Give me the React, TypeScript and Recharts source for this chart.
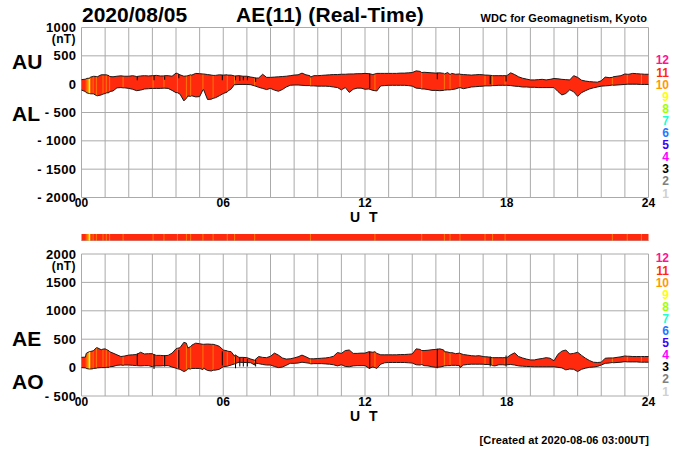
import React from 'react'
import { Area, Bar, CartesianGrid, ComposedChart, Line, ReferenceArea, ReferenceLine, Rectangle, XAxis, YAxis } from 'recharts'

// 10 minute readings, 145 values from 00:00 to 24:00 UT
const auValues = [
  80, 88, 100, 140, 130, 165, 165, 150, 130, 140, 147, 140, 140, 150, 135, 145, 150, 145,
  150, 155, 145, 150, 150, 140, 195, 165, 140, 150, 160, 190, 185, 180, 170, 160, 155, 165,
  160, 165, 160, 145, 150, 140, 140, 125, 105, 110, 175, 120, 120, 125, 130, 135, 140, 150,
  160, 165, 195, 165, 150, 150, 150, 155, 160, 165, 170, 170, 175, 175, 180, 180, 185, 185,
  190, 185, 170, 190, 190, 190, 190, 190, 190, 195, 195, 200, 205, 235, 225, 210, 205, 200,
  195, 200, 190, 205, 190, 175, 180, 170, 165, 160, 165, 170, 165, 160, 155, 150, 150, 150,
  150, 200, 170, 130, 105, 90, 75, 75, 80, 85, 75, 85, 100, 95, 85, 80, 75, 150,
  120, 70, 55, 45, 40, 35, 60, 125, 115, 130, 140, 150, 180, 175, 190, 185, 180, 175, 175,
]
const alValues = [
  -105, -130, -165, -170, -205, -190, -165, -150, -120, -65, -60, -65, -75, -90, -115, -105, -85, -80,
  -75, -75, -75, -70, -75, -110, -150, -175, -295, -210, -205, -225, -220, -95, -270, -265, -240, -205,
  -165, -140, -85, -10, -5, -5, -5, -10, -30, -55, -75, -95, -75, -105, -125, -95, -50, -20,
  -15, -15, -20, -25, -25, -30, -35, -35, -35, -40, -50, -60, -100, -60, -145, -90, -70, -70,
  -90, -85, -110, -120, -30, -25, -20, -20, -20, -20, -20, -25, -35, -70, -75, -85, -95, -110,
  -110, -115, -110, -100, -95, -85, -60, -80, -65, -50, -45, -40, -35, -30, -30, -25, -20, -20,
  -20, -25, -35, -40, -50, -50, -55, -55, -60, -60, -60, -60, -60, -130, -190, -165, -100, -135,
  -215, -150, -115, -85, -65, -50, -35, -30, -25, -20, -15, -10, -5, 0, 0, 0, -5, -5, -5,
]
const aeValues = [
  180, 185, 280, 295, 350, 315, 330, 295, 255, 225, 195, 205, 220, 225, 230, 270, 240, 245,
  245, 215, 215, 210, 215, 255, 330, 350, 445, 345, 395, 430, 420, 410, 415, 410, 400, 375,
  310, 295, 280, 225, 180, 180, 175, 150, 135, 195, 180, 175, 200, 255, 220, 170, 150, 155,
  170, 190, 220, 190, 155, 155, 160, 165, 170, 180, 200, 265, 250, 300, 310, 250, 250, 255,
  255, 280, 270, 250, 225, 225, 225, 225, 225, 230, 230, 235, 240, 330, 320, 300, 305, 315,
  320, 330, 310, 275, 265, 245, 255, 230, 220, 210, 205, 210, 195, 190, 180, 175, 175, 175,
  175, 225, 260, 195, 170, 150, 135, 135, 150, 160, 175, 165, 120, 235, 290, 310, 240, 250,
  270, 215, 165, 125, 95, 90, 95, 165, 170, 170, 180, 190, 205, 200, 195, 195, 195, 195, 195,
]
const aoValues = [
  0, -5, -25, -15, -5, 0, 0, 5, 20, 40, 45, 45, 45, 40, 35, 30, 35, 35,
  15, 30, 30, 35, 35, 10, -10, -30, -70, -20, -15, -15, -15, -10, -50, -60, -45, -30,
  15, 25, 45, 70, 95, 90, 90, 85, 80, 70, 55, 45, 45, 20, 0, 10, 40, 75,
  75, 80, 95, 85, 75, 70, 70, 70, 65, 60, 50, 30, 50, 20, 15, 30, 35, 35,
  35, -10, 10, -15, 60, 85, 90, 90, 90, 90, 90, 85, 80, 50, 45, 35, 30, 15,
  5, 10, 25, 35, 40, 40, 35, 45, 55, 60, 60, 60, 60, 55, 50, 30, 50, 50,
  50, 55, 45, 30, 25, 20, 18, 15, 15, 15, 15, 15, 15, 5, -5, -40, -25, -30,
  -70, -30, -10, 5, 10, 20, 45, 75, 80, 85, 90, 95, 105, 100, 100, 100, 95, 95, 95,
]

// narrow orange / yellow stripes where the number of stations drops
const stripeHours = [0.2, 0.28, 0.34, 0.39, 0.49, 0.63, 0.91, 1.05, 1.19, 1.76, 3.03, 3.49, 4.06, 4.44, 4.62, 5.14, 5.57, 6.17, 6.48, 7.33, 9.69, 12.42, 14.4, 15.36, 15.6, 16.02, 17.08, 17.4, 17.93, 22.47, 23.1, 23.7]
const stripeCounts = [10, 9, 9, 10, 10, 10, 10, 10, 10, 10, 10, 10, 10, 10, 10, 10, 10, 10, 10, 10, 10, 10, 10, 10, 10, 10, 10, 10, 10, 10, 10, 10]
const stripeAU = [98, 105, 112, 125, 135, 135, 165, 165, 135, 142, 150, 145, 190, 145, 165, 180, 155, 160, 145, 115, 125, 180, 205, 180, 170, 175, 160, 150, 150, 120, 175, 180]
const stripeAL = [-150, -160, -165, -170, -170, -200, -175, -155, -130, -65, -75, -70, -150, -250, -215, -100, -250, -130, -5, -30, -30, -115, -85, -105, -100, -60, -30, -25, -20, -15, 0, -5]
const stripeAE = [250, 270, 282, 285, 295, 350, 325, 320, 280, 200, 235, 210, 340, 430, 370, 410, 410, 290, 200, 130, 155, 280, 300, 280, 260, 250, 190, 175, 175, 170, 200, 195]
const stripeAO = [-15, -22, -25, -25, -20, -10, 0, 5, 15, 40, 25, 35, -20, -50, -25, -35, -45, 25, 65, 45, 65, 0, 55, 30, 35, 0, 55, 35, 45, 90, 100, 95]

// black ticks, these only appear in the two panels and not in the strip
const blackHours = [2.36, 3.07, 3.52, 4.12, 5.96, 6.52, 6.7, 6.85, 7.02, 7.37, 12.2, 15.06, 17.3, 17.97]
const blackUpperTop = [140, 150, 140, 180, 160, 140, 140, 135, 130, 118, 190, 200, 150, 150]
const blackUpperBottom = [70, 70, 80, 105, 70, 70, 60, 70, 70, 40, -70, 85, 0, 45]
const blackLowerTop = [253, 240, 220, 310, 290, 195, 175, 165, 150, 135, 280, 330, 194, 212]
const blackLowerBottom = [47, -24, 18, -12, 35, -12, 18, 18, 18, 18, -24, -12, 18, 18]

const hourTicks = [0, 1, 2, 3, 4, 5, 6, 7, 8, 9, 10, 11, 12, 13, 14, 15, 16, 17, 18, 19, 20, 21, 22, 23, 24]
const upperTicks = [-2000, -1500, -1000, -500, 0, 500, 1000]
const lowerTicks = [-500, 0, 500, 1000, 1500, 2000]
const stationLabels = [12, 11, 10, 9, 8, 7, 6, 5, 4, 3, 2, 1]
const stationColors = ['#ff1493', '#ff2a0e', '#ff9900', '#ffff00', '#a0ff00', '#20ffd0', '#1e78ff', '#3c00ff', '#ff00ff', '#000000', '#808080', '#d0d0d0']

const RED = stationColors[1]
const FONT = '"Liberation Sans", Arial, sans-serif'
const STRIPE_WIDTH = 1

const colorOf = (n: number) => stationColors[12 - n]

const rows = [
  ...auValues.map((au, i) => ({
    hour: i / 6,
    upper: [alValues[i], au],
    lower: [aoValues[i], aeValues[i]],
    au, al: alValues[i], ae: aeValues[i], ao: aoValues[i],
  })),
  ...stripeHours.map((hour, i) => ({
    hour,
    upper: [stripeAL[i], stripeAU[i]],
    lower: [stripeAO[i], stripeAE[i]],
    au: stripeAU[i], al: stripeAL[i], ae: stripeAE[i], ao: stripeAO[i],
    count: stripeCounts[i],
    upperStripe: [stripeAL[i], stripeAU[i]],
    lowerStripe: [stripeAO[i], stripeAE[i]],
  })),
  ...blackHours.map((hour, i) => ({
    hour,
    count: 3,
    upperStripe: [blackUpperBottom[i], blackUpperTop[i]],
    lowerStripe: [blackLowerBottom[i], blackLowerTop[i]],
  })),
].sort((a: any, b: any) => a.hour - b.hour) as any[]

const stripRows = stripeHours.map((hour, i) => ({ hour, count: stripeCounts[i], on: 1 }))

const hourLabel = (h: number) => (h % 6 === 0 ? String(h).padStart(2, '0') : '')
const nTLabel = (v: number) => (v < 0 ? `- ${-v}` : String(v))

const tickStyle = { fill: '#000', fontFamily: FONT, fontWeight: 700, fontSize: 13, letterSpacing: 0.4 }
const xTickStyle = { ...tickStyle, fontSize: 12, letterSpacing: 0 }

// the dense rows make the library's own bar width far too thin, so keep its centre and widen it
const stripeShape = (p: any) =>
  p.payload && p.payload.count
    ? <Rectangle x={p.x + p.width / 2 - STRIPE_WIDTH / 2} y={p.y} width={STRIPE_WIDTH} height={p.height}
        fill={colorOf(p.payload.count)} fillOpacity={p.payload.count === 10 ? 0.7 : 1} />
    : <g />

const Label = ({ x, y, size, text, color = '#000', anchor = 'left', weight = 700, spacing = 0 }: any) => (
  <div style={{
    position: 'absolute',
    top: y - size * 0.55,
    height: size * 1.1,
    lineHeight: `${size * 1.1}px`,
    ...(anchor === 'right' ? { right: 700 - x } : anchor === 'center' ? { left: x - 20, width: 40, textAlign: 'center' as const } : { left: x }),
    fontFamily: FONT,
    fontSize: size,
    fontWeight: weight,
    letterSpacing: spacing,
    color,
    whiteSpace: 'nowrap',
  }}>{text}</div>
)

const Panel = ({ top, height, margin, domain, ticks, rangeKey, stripeKey, hiKey, loKey }: any) => (
  <div style={{ position: 'absolute', left: 0, top }}>
    <ComposedChart width={700} height={height} data={rows} margin={margin}>
      <CartesianGrid stroke="#aaaaaa" strokeWidth={1} />
      <XAxis dataKey="hour" type="number" scale="linear" domain={[0, 24]} ticks={hourTicks} interval={0}
        tickFormatter={hourLabel} tick={xTickStyle} axisLine={false} tickLine={false} tickSize={0} tickMargin={1} height={20} />
      <YAxis type="number" domain={domain} ticks={ticks} interval={0} tickFormatter={nTLabel} tick={tickStyle}
        axisLine={false} tickLine={false} tickSize={0} tickMargin={5} width={60} allowDataOverflow />
      <Area dataKey={rangeKey} type="linear" fill={RED} fillOpacity={1} stroke="none" connectNulls isAnimationActive={false} dot={false} activeDot={false} />
      <Bar dataKey={stripeKey} shape={stripeShape} isAnimationActive={false} />
      <Line dataKey={hiKey} type="linear" stroke="#1a1a1a" strokeWidth={1} connectNulls dot={false} activeDot={false} isAnimationActive={false} />
      <Line dataKey={loKey} type="linear" stroke="#1a1a1a" strokeWidth={1} connectNulls dot={false} activeDot={false} isAnimationActive={false} />
    </ComposedChart>
  </div>
)

const Strip = () => (
  <div style={{ position: 'absolute', left: 0, top: 234 }}>
    <ComposedChart width={700} height={7} data={stripRows} margin={{ top: 0, right: 51.5, bottom: 0, left: 81.5 }}>
      <XAxis dataKey="hour" type="number" scale="linear" domain={[0, 24]} hide />
      <YAxis type="number" domain={[0, 1]} hide />
      <ReferenceArea x1={0} x2={24} y1={0} y2={1} fill={RED} fillOpacity={1} stroke="none" />
      <Bar dataKey="on" shape={stripeShape} isAnimationActive={false} />
      <ReferenceLine y={0} stroke="#aaaaaa" strokeWidth={1} />
    </ComposedChart>
  </div>
)

const StationLegend = ({ first }: { first: number }) => (
  <>
    {stationLabels.map((n, i) => (
      <Label key={n} x={669} y={first + i * 12.1} size={12} anchor="right" text={n} color={stationColors[i]} />
    ))}
  </>
)

const App = () => (
  <div style={{ position: 'absolute', left: 0, top: 0, width: 700, height: 450, background: '#fff', overflow: 'hidden' }}>
    <Panel top={0} height={225} margin={{ top: 27.5, right: 51.5, bottom: 7.5, left: 21.5 }} domain={[-2000, 1000]} ticks={upperTicks}
      rangeKey="upper" stripeKey="upperStripe" hiKey="au" loKey="al" />
    <Strip />
    <Panel top={225} height={200} margin={{ top: 29, right: 51.5, bottom: 9, left: 21.5 }} domain={[-500, 2000]} ticks={lowerTicks}
      rangeKey="lower" stripeKey="lowerStripe" hiKey="ae" loKey="ao" />

    <Label x={82} y={15} size={21} text="2020/08/05" />
    <Label x={236} y={15} size={21} spacing={0.15} text="AE(11) (Real-Time)" />
    <Label x={647} y={18} size={11} anchor="right" spacing={0.1} text="WDC for Geomagnetism, Kyoto" />

    <Label x={76} y={40} size={12} anchor="right" spacing={0.4} text="(nT)" />
    <Label x={76} y={267} size={12} anchor="right" spacing={0.4} text="(nT)" />

    <Label x={12} y={62} size={21} text="AU" />
    <Label x={12} y={114} size={21} text="AL" />
    <Label x={12} y={339} size={21} text="AE" />
    <Label x={12} y={382} size={21} text="AO" />

    <Label x={365} y={218} size={14} anchor="center" text="U T" spacing={2.4} />
    <Label x={365} y={417} size={14} anchor="center" text="U T" spacing={2.4} />

    <StationLegend first={61} />
    <StationLegend first={259} />

    <Label x={649} y={440} size={11} anchor="right" spacing={0.1} text="[Created at 2020-08-06 03:00UT]" />
  </div>
)

export default App
